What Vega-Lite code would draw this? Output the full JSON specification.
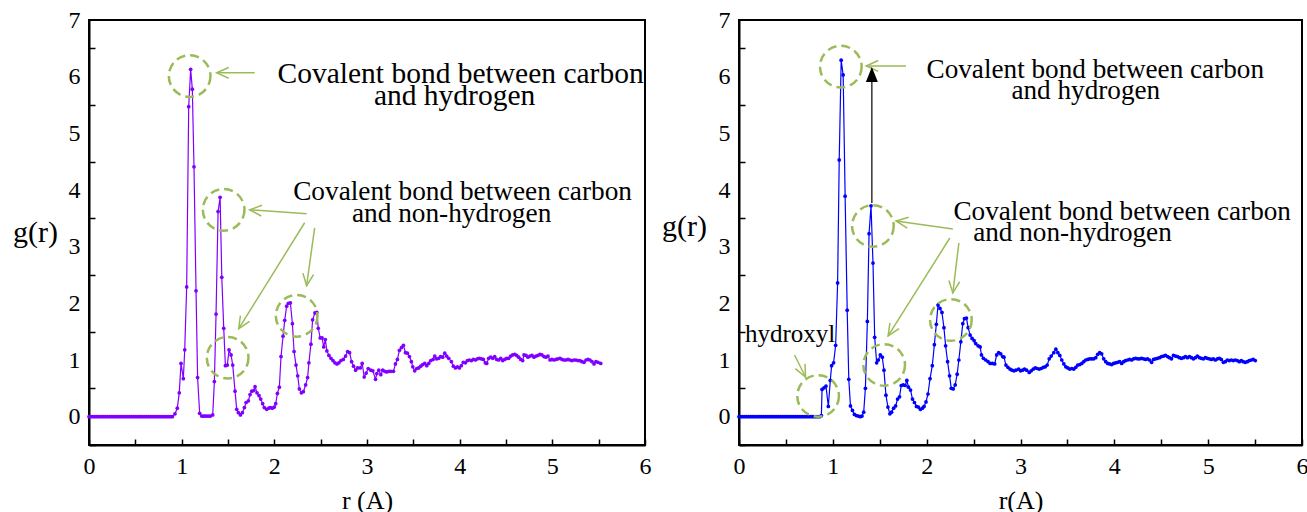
{
"$schema": "https://vega.github.io/schema/vega-lite/v6.json",
"padding": {"left": 11, "top": 7, "right": 0, "bottom": 0},
"background": "white",
"bounds": "flush",
"spacing": 94,
"config": {
  "font": "Liberation Serif",
  "view": {"stroke": "black", "strokeWidth": 2},
  "style": {"guide-label": {"font": "Liberation Serif", "fontSize": 24, "fill": "black"}, "guide-title": {"font": "Liberation Serif", "fill": "black"}},
  "axis": {"grid": false, "domainColor": "black", "domainWidth": 2, "tickColor": "black", "tickWidth": 1.5, "tickSize": -6,
    "labelFont": "Liberation Serif", "labelFontSize": 24, "labelColor": "black", "labelFlush": false, "labelOverlap": false, "labelBound": false,
    "titleFont": "Liberation Serif", "titleFontWeight": "normal", "titleColor": "black"},
  "axisX": {"labelFont": "Liberation Serif"},
  "axisY": {"labelFont": "Liberation Serif"},
  "text": {"font": "Liberation Serif"}
},
"datasets": {
"L": [
{"r":0,"g":0},{"r":0.02,"g":0},{"r":0.04,"g":0},{"r":0.06,"g":0},{"r":0.08,"g":0},{"r":0.1,"g":0},{"r":0.12,"g":0},{"r":0.14,"g":0},{"r":0.16,"g":0},{"r":0.18,"g":0},
{"r":0.2,"g":0},{"r":0.22,"g":0},{"r":0.24,"g":0},{"r":0.26,"g":0},{"r":0.28,"g":0},{"r":0.3,"g":0},{"r":0.32,"g":0},{"r":0.34,"g":0},{"r":0.36,"g":0},{"r":0.38,"g":0},
{"r":0.4,"g":0},{"r":0.42,"g":0},{"r":0.44,"g":0},{"r":0.46,"g":0},{"r":0.48,"g":0},{"r":0.5,"g":0},{"r":0.52,"g":0},{"r":0.54,"g":0},{"r":0.56,"g":0},{"r":0.58,"g":0},
{"r":0.6,"g":0},{"r":0.62,"g":0},{"r":0.64,"g":0},{"r":0.66,"g":0},{"r":0.68,"g":0},{"r":0.7,"g":0},{"r":0.72,"g":0},{"r":0.74,"g":0},{"r":0.76,"g":0},{"r":0.78,"g":0},
{"r":0.8,"g":0},{"r":0.82,"g":0},{"r":0.84,"g":0},{"r":0.86,"g":0},{"r":0.88,"g":0},{"r":0.9,"g":0},
{"r":0.928,"g":0.05},{"r":0.953,"g":0.15},{"r":0.974,"g":0.42},{"r":0.993,"g":0.94},{"r":1.018,"g":0.67},{"r":1.033,"g":1.18},{"r":1.054,"g":2.29},{"r":1.076,"g":5.47},{"r":1.097,"g":6.13},{"r":1.115,"g":5.78},
{"r":1.133,"g":4.41},{"r":1.155,"g":2.22},{"r":1.172,"g":0.69},{"r":1.194,"g":0.06},{"r":1.216,"g":0.01},{"r":1.234,"g":0.01},{"r":1.252,"g":0.01},{"r":1.27,"g":0.01},{"r":1.29,"g":0.01},{"r":1.31,"g":0.01},
{"r":1.335,"g":0.03},{"r":1.353,"g":0.62},{"r":1.371,"g":1.81},{"r":1.393,"g":3.62},{"r":1.415,"g":3.87},{"r":1.433,"g":2.46},{"r":1.454,"g":1.56},{"r":1.472,"g":0.9},{"r":1.493,"g":0.91},{"r":1.511,"g":1.18},
{"r":1.533,"g":1.09},{"r":1.551,"g":0.91},{"r":1.576,"g":0.45},{"r":1.594,"g":0.13},{"r":1.612,"g":0.07},{"r":1.634,"g":0.03},{"r":1.655,"g":0.07},{"r":1.677,"g":0.16},{"r":1.695,"g":0.25},{"r":1.72,"g":0.28},
{"r":1.738,"g":0.39},{"r":1.756,"g":0.45},{"r":1.778,"g":0.46},{"r":1.792,"g":0.53},{"r":1.813,"g":0.42},{"r":1.835,"g":0.37},{"r":1.853,"g":0.31},{"r":1.874,"g":0.23},{"r":1.892,"g":0.16},{"r":1.918,"g":0.13},
{"r":1.94,"g":0.15},{"r":1.958,"g":0.16},{"r":1.979,"g":0.15},{"r":2.0,"g":0.17},{"r":2.015,"g":0.23},{"r":2.033,"g":0.41},{"r":2.054,"g":0.52},{"r":2.072,"g":1.06},{"r":2.094,"g":1.42},{"r":2.112,"g":1.7},
{"r":2.133,"g":1.95},{"r":2.151,"g":2.0},{"r":2.173,"g":2.01},{"r":2.195,"g":1.64},{"r":2.213,"g":1.15},{"r":2.234,"g":0.91},{"r":2.252,"g":0.72},{"r":2.27,"g":0.49},{"r":2.292,"g":0.42},{"r":2.313,"g":0.44},
{"r":2.338,"g":0.56},{"r":2.359,"g":0.69},{"r":2.373,"g":0.95},{"r":2.395,"g":1.28},{"r":2.413,"g":1.71},{"r":2.438,"g":1.83},{"r":2.459,"g":1.84},{"r":2.474,"g":1.56},{"r":2.495,"g":1.39},{"r":2.515,"g":1.39},
{"r":2.533,"g":1.23},{"r":2.55,"g":1.36},{"r":2.567,"g":1.16},{"r":2.589,"g":1.08},{"r":2.611,"g":1.03},{"r":2.633,"g":0.99},{"r":2.654,"g":0.95},{"r":2.676,"g":0.93},{"r":2.697,"g":0.95},{"r":2.719,"g":0.99},
{"r":2.744,"g":1.01},{"r":2.769,"g":1.07},{"r":2.791,"g":1.15},{"r":2.812,"g":1.13},{"r":2.834,"g":0.97},{"r":2.855,"g":0.89},{"r":2.877,"g":0.82},{"r":2.898,"g":0.86},{"r":2.927,"g":0.86},{"r":2.948,"g":0.94},
{"r":2.97,"g":0.7},{"r":2.991,"g":0.77},{"r":3.013,"g":0.85},{"r":3.041,"g":0.82},{"r":3.063,"g":0.81},{"r":3.092,"g":0.66},{"r":3.106,"g":0.76},{"r":3.127,"g":0.82},{"r":3.149,"g":0.74},{"r":3.17,"g":0.82},
{"r":3.192,"g":0.8},{"r":3.213,"g":0.79},{"r":3.235,"g":0.8},{"r":3.257,"g":0.8},{"r":3.285,"g":0.8},{"r":3.307,"g":0.93},{"r":3.328,"g":1.01},{"r":3.35,"g":1.17},{"r":3.372,"g":1.22},{"r":3.393,"g":1.26},
{"r":3.415,"g":1.13},{"r":3.436,"g":1.12},{"r":3.458,"g":1.06},{"r":3.479,"g":0.97},{"r":3.494,"g":0.88},{"r":3.515,"g":0.81},{"r":3.537,"g":0.85},{"r":3.558,"g":0.86},{"r":3.58,"g":0.89},{"r":3.601,"g":0.92},
{"r":3.623,"g":0.94},{"r":3.645,"g":0.9},{"r":3.666,"g":0.94},{"r":3.688,"g":0.99},{"r":3.713,"g":1.01},{"r":3.731,"g":1.07},{"r":3.752,"g":1.02},{"r":3.774,"g":1.03},{"r":3.795,"g":1.06},{"r":3.817,"g":1.05},
{"r":3.839,"g":1.12},{"r":3.86,"g":1.07},{"r":3.882,"g":1.03},{"r":3.911,"g":0.97},{"r":3.932,"g":0.89},{"r":3.954,"g":0.86},{"r":3.975,"g":0.88},{"r":3.997,"g":0.86},{"r":4.018,"g":0.9},{"r":4.04,"g":0.96},
{"r":4.062,"g":0.95},{"r":4.083,"g":0.99},{"r":4.105,"g":1.0},{"r":4.126,"g":0.99},{"r":4.148,"g":1.01},{"r":4.17,"g":1.0},{"r":4.191,"g":1.02},{"r":4.213,"g":1.03},{"r":4.234,"g":1.02},{"r":4.256,"g":1.01},
{"r":4.277,"g":0.95},{"r":4.292,"g":0.94},{"r":4.313,"g":1.03},{"r":4.335,"g":1.05},{"r":4.357,"g":1.03},{"r":4.378,"g":1.06},{"r":4.4,"g":1.01},{"r":4.421,"g":1.0},{"r":4.443,"g":1.03},{"r":4.464,"g":0.99},
{"r":4.486,"g":1.01},{"r":4.508,"g":1.03},{"r":4.529,"g":1.03},{"r":4.551,"g":1.07},{"r":4.572,"g":1.09},{"r":4.594,"g":1.1},{"r":4.615,"g":1.08},{"r":4.637,"g":1.05},{"r":4.659,"g":1.01},{"r":4.68,"g":0.99},
{"r":4.694,"g":1.09},{"r":4.716,"g":1.08},{"r":4.737,"g":1.05},{"r":4.759,"g":1.07},{"r":4.781,"g":1.08},{"r":4.802,"g":1.05},{"r":4.824,"g":1.07},{"r":4.845,"g":1.08},{"r":4.867,"g":1.1},{"r":4.888,"g":1.09},
{"r":4.91,"g":1.06},{"r":4.932,"g":1.05},{"r":4.953,"g":1.07},{"r":4.975,"g":1.0},{"r":4.996,"g":1.01},{"r":5.018,"g":1.0},{"r":5.039,"g":1.01},{"r":5.061,"g":1.02},{"r":5.083,"g":1.03},{"r":5.104,"g":1.01},
{"r":5.126,"g":1.0},{"r":5.147,"g":1.0},{"r":5.169,"g":1.01},{"r":5.191,"g":1.0},{"r":5.212,"g":0.99},{"r":5.234,"g":1.0},{"r":5.255,"g":1.0},{"r":5.277,"g":0.99},{"r":5.298,"g":0.99},{"r":5.32,"g":0.97},
{"r":5.342,"g":0.96},{"r":5.363,"g":1.0},{"r":5.385,"g":1.01},{"r":5.406,"g":1.0},{"r":5.428,"g":0.97},{"r":5.45,"g":0.93},{"r":5.471,"g":0.97},{"r":5.493,"g":0.96},{"r":5.522,"g":0.94}
],
"R": [
{"r":0,"g":0},{"r":0.02,"g":0},{"r":0.04,"g":0},{"r":0.06,"g":0},{"r":0.08,"g":0},{"r":0.1,"g":0},{"r":0.12,"g":0},{"r":0.14,"g":0},{"r":0.16,"g":0},{"r":0.18,"g":0},
{"r":0.2,"g":0},{"r":0.22,"g":0},{"r":0.24,"g":0},{"r":0.26,"g":0},{"r":0.28,"g":0},{"r":0.3,"g":0},{"r":0.32,"g":0},{"r":0.34,"g":0},{"r":0.36,"g":0},{"r":0.38,"g":0},
{"r":0.4,"g":0},{"r":0.42,"g":0},{"r":0.44,"g":0},{"r":0.46,"g":0},{"r":0.48,"g":0},{"r":0.5,"g":0},{"r":0.52,"g":0},{"r":0.54,"g":0},{"r":0.56,"g":0},{"r":0.58,"g":0},
{"r":0.6,"g":0},{"r":0.62,"g":0},{"r":0.64,"g":0},{"r":0.66,"g":0},{"r":0.68,"g":0},{"r":0.7,"g":0},{"r":0.72,"g":0},{"r":0.74,"g":0},{"r":0.76,"g":0},{"r":0.78,"g":0},
{"r":0.8,"g":0},{"r":0.82,"g":0},{"r":0.84,"g":0},{"r":0.86,"g":0},{"r":0.878,"g":0.02},
{"r":0.885,"g":0.48},{"r":0.906,"g":0.51},{"r":0.927,"g":0.54},{"r":0.952,"g":0.18},{"r":0.973,"g":0.64},{"r":0.987,"g":0.9},{"r":1.008,"g":0.95},{"r":1.03,"g":1.26},{"r":1.051,"g":2.36},{"r":1.068,"g":4.53},
{"r":1.089,"g":6.29},{"r":1.11,"g":6.03},{"r":1.131,"g":3.89},{"r":1.153,"g":1.88},{"r":1.17,"g":0.66},{"r":1.188,"g":0.19},{"r":1.209,"g":0.11},{"r":1.23,"g":0.04},{"r":1.251,"g":0.02},{"r":1.273,"g":0.01},
{"r":1.294,"g":0.0},{"r":1.311,"g":0.01},{"r":1.329,"g":0.08},{"r":1.347,"g":0.5},{"r":1.368,"g":1.68},{"r":1.386,"g":3.23},{"r":1.407,"g":3.72},{"r":1.428,"g":2.71},{"r":1.446,"g":1.4},{"r":1.467,"g":0.95},
{"r":1.485,"g":1.0},{"r":1.506,"g":1.09},{"r":1.527,"g":1.05},{"r":1.545,"g":0.82},{"r":1.566,"g":0.38},{"r":1.587,"g":0.17},{"r":1.608,"g":0.05},{"r":1.626,"g":0.08},{"r":1.648,"g":0.15},{"r":1.669,"g":0.19},
{"r":1.69,"g":0.31},{"r":1.711,"g":0.35},{"r":1.729,"g":0.55},{"r":1.75,"g":0.56},{"r":1.771,"g":0.55},{"r":1.789,"g":0.64},{"r":1.806,"g":0.52},{"r":1.828,"g":0.47},{"r":1.849,"g":0.31},{"r":1.87,"g":0.25},
{"r":1.891,"g":0.18},{"r":1.912,"g":0.17},{"r":1.934,"g":0.13},{"r":1.955,"g":0.15},{"r":1.972,"g":0.18},{"r":1.993,"g":0.26},{"r":2.014,"g":0.4},{"r":2.036,"g":0.67},{"r":2.06,"g":0.9},{"r":2.082,"g":1.27},
{"r":2.103,"g":1.63},{"r":2.121,"g":1.97},{"r":2.142,"g":1.91},{"r":2.163,"g":1.84},{"r":2.184,"g":1.57},{"r":2.202,"g":1.25},{"r":2.223,"g":0.97},{"r":2.244,"g":0.72},{"r":2.262,"g":0.5},{"r":2.283,"g":0.49},
{"r":2.304,"g":0.56},{"r":2.325,"g":0.75},{"r":2.343,"g":1.0},{"r":2.364,"g":1.32},{"r":2.385,"g":1.64},{"r":2.403,"g":1.73},{"r":2.424,"g":1.74},{"r":2.442,"g":1.57},{"r":2.463,"g":1.44},{"r":2.484,"g":1.38},
{"r":2.506,"g":1.34},{"r":2.523,"g":1.29},{"r":2.548,"g":1.25},{"r":2.57,"g":1.23},{"r":2.584,"g":1.09},{"r":2.605,"g":1.03},{"r":2.63,"g":1.0},{"r":2.654,"g":0.97},{"r":2.676,"g":0.94},{"r":2.7,"g":0.94},
{"r":2.725,"g":0.93},{"r":2.746,"g":1.09},{"r":2.767,"g":1.13},{"r":2.789,"g":1.11},{"r":2.81,"g":1.06},{"r":2.824,"g":1.05},{"r":2.845,"g":0.91},{"r":2.866,"g":0.87},{"r":2.888,"g":0.84},{"r":2.909,"g":0.82},
{"r":2.93,"g":0.81},{"r":2.951,"g":0.82},{"r":2.98,"g":0.84},{"r":3.001,"g":0.81},{"r":3.022,"g":0.82},{"r":3.043,"g":0.84},{"r":3.065,"g":0.82},{"r":3.093,"g":0.78},{"r":3.114,"g":0.81},{"r":3.136,"g":0.84},
{"r":3.157,"g":0.86},{"r":3.178,"g":0.85},{"r":3.199,"g":0.84},{"r":3.22,"g":0.85},{"r":3.242,"g":0.87},{"r":3.263,"g":0.88},{"r":3.284,"g":0.91},{"r":3.306,"g":1.02},{"r":3.327,"g":1.07},{"r":3.355,"g":1.13},
{"r":3.377,"g":1.19},{"r":3.398,"g":1.13},{"r":3.419,"g":1.08},{"r":3.44,"g":1.0},{"r":3.462,"g":0.93},{"r":3.483,"g":0.88},{"r":3.504,"g":0.86},{"r":3.525,"g":0.84},{"r":3.547,"g":0.85},{"r":3.568,"g":0.84},
{"r":3.589,"g":0.87},{"r":3.61,"g":0.91},{"r":3.632,"g":0.92},{"r":3.653,"g":0.94},{"r":3.674,"g":0.97},{"r":3.695,"g":1.0},{"r":3.717,"g":1.01},{"r":3.738,"g":1.02},{"r":3.759,"g":1.02},{"r":3.78,"g":1.02},
{"r":3.802,"g":1.04},{"r":3.823,"g":1.1},{"r":3.844,"g":1.13},{"r":3.865,"g":1.11},{"r":3.887,"g":1.02},{"r":3.908,"g":0.97},{"r":3.929,"g":0.94},{"r":3.95,"g":0.93},{"r":3.972,"g":0.92},{"r":3.993,"g":0.94},
{"r":4.014,"g":0.95},{"r":4.035,"g":0.96},{"r":4.057,"g":0.97},{"r":4.078,"g":0.94},{"r":4.099,"g":0.97},{"r":4.12,"g":0.99},{"r":4.142,"g":1.0},{"r":4.163,"g":1.01},{"r":4.184,"g":1.0},{"r":4.205,"g":1.02},
{"r":4.227,"g":1.03},{"r":4.248,"g":1.02},{"r":4.269,"g":1.02},{"r":4.29,"g":1.03},{"r":4.312,"g":1.02},{"r":4.333,"g":1.01},{"r":4.354,"g":1.02},{"r":4.375,"g":1.0},{"r":4.397,"g":0.96},{"r":4.418,"g":1.01},
{"r":4.439,"g":1.02},{"r":4.46,"g":1.03},{"r":4.482,"g":1.04},{"r":4.503,"g":1.06},{"r":4.524,"g":1.07},{"r":4.545,"g":1.08},{"r":4.567,"g":1.06},{"r":4.588,"g":1.04},{"r":4.609,"g":1.02},{"r":4.63,"g":1.08},
{"r":4.652,"g":1.07},{"r":4.673,"g":1.06},{"r":4.694,"g":1.04},{"r":4.715,"g":1.03},{"r":4.737,"g":1.04},{"r":4.758,"g":1.06},{"r":4.779,"g":1.04},{"r":4.8,"g":1.06},{"r":4.822,"g":1.04},{"r":4.843,"g":1.02},
{"r":4.864,"g":1.04},{"r":4.885,"g":1.07},{"r":4.907,"g":1.04},{"r":4.928,"g":1.03},{"r":4.949,"g":1.02},{"r":4.97,"g":1.04},{"r":4.992,"g":1.03},{"r":5.013,"g":1.02},{"r":5.034,"g":1.01},{"r":5.055,"g":1.02},
{"r":5.077,"g":1.0},{"r":5.098,"g":1.02},{"r":5.119,"g":1.03},{"r":5.14,"g":1.01},{"r":5.162,"g":0.96},{"r":5.183,"g":0.97},{"r":5.204,"g":1.0},{"r":5.225,"g":0.99},{"r":5.247,"g":1.0},{"r":5.268,"g":0.99},
{"r":5.289,"g":1.0},{"r":5.31,"g":0.99},{"r":5.332,"g":0.97},{"r":5.353,"g":0.99},{"r":5.374,"g":0.97},{"r":5.395,"g":0.96},{"r":5.417,"g":0.97},{"r":5.438,"g":0.99},{"r":5.459,"g":1.0},{"r":5.48,"g":1.01},{"r":5.502,"g":0.99}
],
"Lc": [{"r":1.086,"g":6.01},{"r":1.453,"g":3.65},{"r":1.496,"g":1.04},{"r":2.241,"g":1.78}],
"Rc": [{"r":1.085,"g":6.176},{"r":1.427,"g":3.365},{"r":1.547,"g":0.912},{"r":2.258,"g":1.706},{"r":0.843,"g":0.365}],
"La": [
 {"r":1.788,"g":6.067,"r2":1.378,"g2":6.067},
 {"r":2.348,"g":3.58,"r2":1.734,"g2":3.651},
 {"r":2.327,"g":3.422,"r2":1.615,"g2":1.552},
 {"r":2.435,"g":3.333,"r2":2.348,"g2":2.31}
],
"Ra": [
 {"r":1.78,"g":6.189,"r2":1.356,"g2":6.189},
 {"r":2.279,"g":3.312,"r2":1.674,"g2":3.453},
 {"r":2.247,"g":3.153,"r2":1.589,"g2":1.424},
 {"r":2.343,"g":3.065,"r2":2.279,"g2":2.182},
 {"r":0.592,"g":1.088,"r2":0.709,"g2":0.7}
],
"Lt1": [
 {"r":4.01,"g":5.891,"t":"Covalent bond between carbon"},
 {"r":3.945,"g":5.503,"t":"and hydrogen"}
],
"Lt2": [
 {"r":4.031,"g":3.827,"t":"Covalent bond between carbon"},
 {"r":3.913,"g":3.439,"t":"and non-hydrogen"}
],
"Rt": [
 {"r":3.797,"g":5.971,"t":"Covalent bond between carbon"},
 {"r":3.696,"g":5.601,"t":"and hydrogen"},
 {"r":4.084,"g":3.471,"t":"Covalent bond between carbon"},
 {"r":3.554,"g":3.1,"t":"and non-hydrogen"}
],
"Rh": [{"r":0.544,"g":1.315,"t":"hydroxyl"}],
"Rb": [{"r":1.416,"g":3.77,"g2":5.92,"gt":6.17}]
},
"hconcat": [
{
 "width": 556, "height": 425,
 "encoding": {
   "x": {"field": "r", "type": "quantitative", "scale": {"domain": [0, 6], "nice": false, "zero": false},
     "axis": {"title": "r (A)", "values": [0,0.5,1,1.5,2,2.5,3,3.5,4,4.5,5,5.5,6], "labelExpr": "datum.value % 1 == 0 ? '' + datum.value : ''", "labelFont": "Liberation Serif", "labelPadding": 15, "titleFontSize": 26, "titlePadding": 9}},
   "y": {"field": "g", "type": "quantitative", "scale": {"domain": [-0.5, 7], "nice": false, "zero": false},
     "axis": {"title": "g(r)", "values": [-0.5,0,0.5,1,1.5,2,2.5,3,3.5,4,4.5,5,5.5,6,6.5,7], "labelExpr": "datum.value % 1 == 0 ? '' + datum.value : ''", "labelFont": "Liberation Serif",
       "tickOpacity": {"condition": {"test": "datum.value % 1 == 0", "value": 0}, "value": 1},
       "labelPadding": 15, "titleAngle": 0, "titleFontSize": 30, "titleX": -54, "titleY": 212, "titleAlign": "center", "titleBaseline": "middle"}}
 },
 "layer": [
   {"data": {"name": "L"}, "mark": {"type": "line", "color": "#8000ff", "strokeWidth": 1.2, "point": {"filled": true, "size": 14, "opacity": 1, "color": "#8000ff"}}},
   {"data": {"name": "Lc"}, "mark": {"type": "point", "shape": "circle", "filled": false, "size": 1735, "color": "#9bbb59", "strokeWidth": 2.5, "strokeDash": [9, 5], "opacity": 1}},
   {"data": {"name": "La"}, "mark": {"type": "rule", "color": "#9bbb59", "strokeWidth": 1.5},
    "encoding": {"x2": {"field": "r2", "title": "r (A)"}, "y2": {"field": "g2", "title": "g(r)"}}},
   {"data": {"name": "La"}, "transform": [{"calculate": "atan2(-(datum.g2 - datum.g) * 425 / 7.5, (datum.r2 - datum.r) * 556 / 6) * 180 / PI", "as": "ang"}],
    "mark": {"type": "point", "shape": "M-1,-0.45L0,0L-1,0.45", "filled": false, "size": 576, "color": "#9bbb59", "strokeWidth": 1.5, "opacity": 1},
    "encoding": {"x": {"field": "r2", "type": "quantitative", "title": "r (A)"}, "y": {"field": "g2", "type": "quantitative", "title": "g(r)"}, "angle": {"field": "ang", "type": "quantitative", "scale": null}}},
   {"data": {"name": "Lt1"}, "mark": {"type": "text", "fontSize": 29.5, "align": "center", "baseline": "alphabetic", "font": "Liberation Serif", "color": "black"},
    "encoding": {"text": {"field": "t"}}},
   {"data": {"name": "Lt2"}, "mark": {"type": "text", "fontSize": 27.3, "align": "center", "baseline": "alphabetic", "font": "Liberation Serif", "color": "black"},
    "encoding": {"text": {"field": "t"}}}
 ]
},
{
 "width": 563, "height": 425,
 "encoding": {
   "x": {"field": "r", "type": "quantitative", "scale": {"domain": [0, 6], "nice": false, "zero": false},
     "axis": {"title": "r(A)", "values": [0,0.5,1,1.5,2,2.5,3,3.5,4,4.5,5,5.5,6], "labelExpr": "datum.value % 1 == 0 ? '' + datum.value : ''", "labelFont": "Liberation Serif", "labelPadding": 15, "titleFontSize": 26, "titlePadding": 9}},
   "y": {"field": "g", "type": "quantitative", "scale": {"domain": [-0.5, 7], "nice": false, "zero": false},
     "axis": {"title": "g(r)", "values": [-0.5,0,0.5,1,1.5,2,2.5,3,3.5,4,4.5,5,5.5,6,6.5,7], "labelExpr": "datum.value % 1 == 0 ? '' + datum.value : ''", "labelFont": "Liberation Serif",
       "tickOpacity": {"condition": {"test": "datum.value % 1 == 0", "value": 0}, "value": 1},
       "labelPadding": 15, "titleAngle": 0, "titleFontSize": 30, "titleX": -55, "titleY": 206, "titleAlign": "center", "titleBaseline": "middle"}}
 },
 "layer": [
   {"data": {"name": "R"}, "mark": {"type": "line", "color": "#0000ff", "strokeWidth": 1.2, "point": {"filled": true, "size": 14, "opacity": 1, "color": "#0000ff"}}},
   {"data": {"name": "Rc"}, "mark": {"type": "point", "shape": "circle", "filled": false, "size": 1735, "color": "#9bbb59", "strokeWidth": 2.5, "strokeDash": [9, 5], "opacity": 1}},
   {"data": {"name": "Ra"}, "mark": {"type": "rule", "color": "#9bbb59", "strokeWidth": 1.5},
    "encoding": {"x2": {"field": "r2", "title": "r(A)"}, "y2": {"field": "g2", "title": "g(r)"}}},
   {"data": {"name": "Ra"}, "transform": [{"calculate": "atan2(-(datum.g2 - datum.g) * 425 / 7.5, (datum.r2 - datum.r) * 563 / 6) * 180 / PI", "as": "ang"}],
    "mark": {"type": "point", "shape": "M-1,-0.45L0,0L-1,0.45", "filled": false, "size": 576, "color": "#9bbb59", "strokeWidth": 1.5, "opacity": 1},
    "encoding": {"x": {"field": "r2", "type": "quantitative", "title": "r(A)"}, "y": {"field": "g2", "type": "quantitative", "title": "g(r)"}, "angle": {"field": "ang", "type": "quantitative", "scale": null}}},
   {"data": {"name": "Rb"}, "mark": {"type": "rule", "color": "black", "strokeWidth": 1.2},
    "encoding": {"y2": {"field": "g2", "title": "g(r)"}}},
   {"data": {"name": "Rb"}, "mark": {"type": "point", "shape": "M0,0L-0.4,1L0.4,1Z", "filled": true, "size": 900, "color": "black", "opacity": 1},
    "encoding": {"y": {"field": "gt", "type": "quantitative", "title": "g(r)"}}},
   {"data": {"name": "Rt"}, "mark": {"type": "text", "fontSize": 27.2, "align": "center", "baseline": "alphabetic", "font": "Liberation Serif", "color": "black"},
    "encoding": {"text": {"field": "t"}}},
   {"data": {"name": "Rh"}, "mark": {"type": "text", "fontSize": 25, "align": "center", "baseline": "alphabetic", "font": "Liberation Serif", "color": "black"},
    "encoding": {"text": {"field": "t"}}}
 ]
}
]
}
